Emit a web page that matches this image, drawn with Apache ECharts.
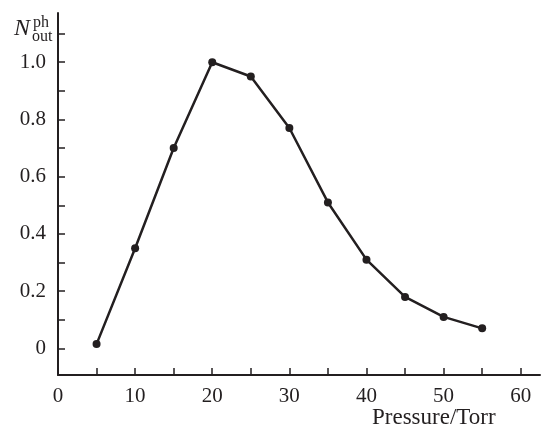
<!DOCTYPE html>
<html>
<head>
<meta charset="utf-8">
<script src="https://cdn.jsdelivr.net/npm/echarts@6/dist/echarts.min.js"></script>
<style>
  html, body { margin: 0; padding: 0; background: #fff; }
  #chart { width: 542px; height: 426px; }
</style>
</head>
<body>
<div id="chart"></div>
<script>
// data
var pressure = [5, 10, 15, 20, 25, 30, 35, 40, 45, 50, 55];
var photonOut = [0.015, 0.35, 0.70, 1.0, 0.95, 0.77, 0.51, 0.31, 0.18, 0.11, 0.07];

var xTicks = [0, 5, 10, 15, 20, 25, 30, 35, 40, 45, 50, 55, 60];
var xTickLabels = [0, 10, 20, 30, 40, 50, 60];
var yTicks = [0, 0.1, 0.2, 0.3, 0.4, 0.5, 0.6, 0.7, 0.8, 0.9, 1.0, 1.1];
var yTickLabels = [0, 0.2, 0.4, 0.6, 0.8, 1.0];

var serif = '"Liberation Serif", "DejaVu Serif", serif';
var ink = '#231f20';

var myChart = echarts.init(document.getElementById('chart'));

var option = {
    animation: false,
    backgroundColor: '#fff',
    title: [
        {text: 'N', left: 9, top: 12, textStyle: {fontFamily: serif, fontStyle: 'italic', fontWeight: 'normal', fontSize: 24, color: ink}},
        {text: 'ph', left: 28, top: 10, textStyle: {fontFamily: serif, fontWeight: 'normal', fontSize: 16, color: ink}},
        {text: 'out', left: 27, top: 24, textStyle: {fontFamily: serif, fontWeight: 'normal', fontSize: 16, color: ink}},
        {text: 'Pressure/Torr', left: 367, top: 401, textStyle: {fontFamily: serif, fontWeight: 'normal', fontSize: 23, color: ink}}
    ],
    grid: {left: 58, right: 2, top: 13, bottom: 51},
    xAxis: {
        type: 'value',
        min: 0,
        max: 62.5,
        axisLine: {onZero: false, lineStyle: {color: ink, width: 2}},
        axisTick: {inside: true, length: 7, customValues: xTicks, lineStyle: {color: ink, width: 1.5}},
        axisLabel: {customValues: xTickLabels, margin: 11, fontFamily: serif, fontSize: 21, color: ink},
        splitLine: {show: false}
    },
    yAxis: {
        type: 'value',
        min: -0.093,
        max: 1.172,
        axisLine: {show: true, onZero: false, lineStyle: {color: ink, width: 2}},
        axisTick: {show: true, inside: true, length: 7, customValues: yTicks, lineStyle: {color: ink, width: 1.5}},
        axisLabel: {
            customValues: yTickLabels,
            margin: 12,
            fontFamily: serif,
            fontSize: 21,
            color: ink,
            formatter: function (v) { return v === 0 ? '0' : v.toFixed(1); }
        },
        splitLine: {show: false}
    },
    series: [{
        type: 'line',
        data: pressure.map(function (p, i) { return [p, photonOut[i]]; }),
        symbol: 'circle',
        symbolSize: 8,
        itemStyle: {color: ink},
        lineStyle: {color: ink, width: 2.5}
    }]
};

myChart.setOption(option);
</script>
</body>
</html>
